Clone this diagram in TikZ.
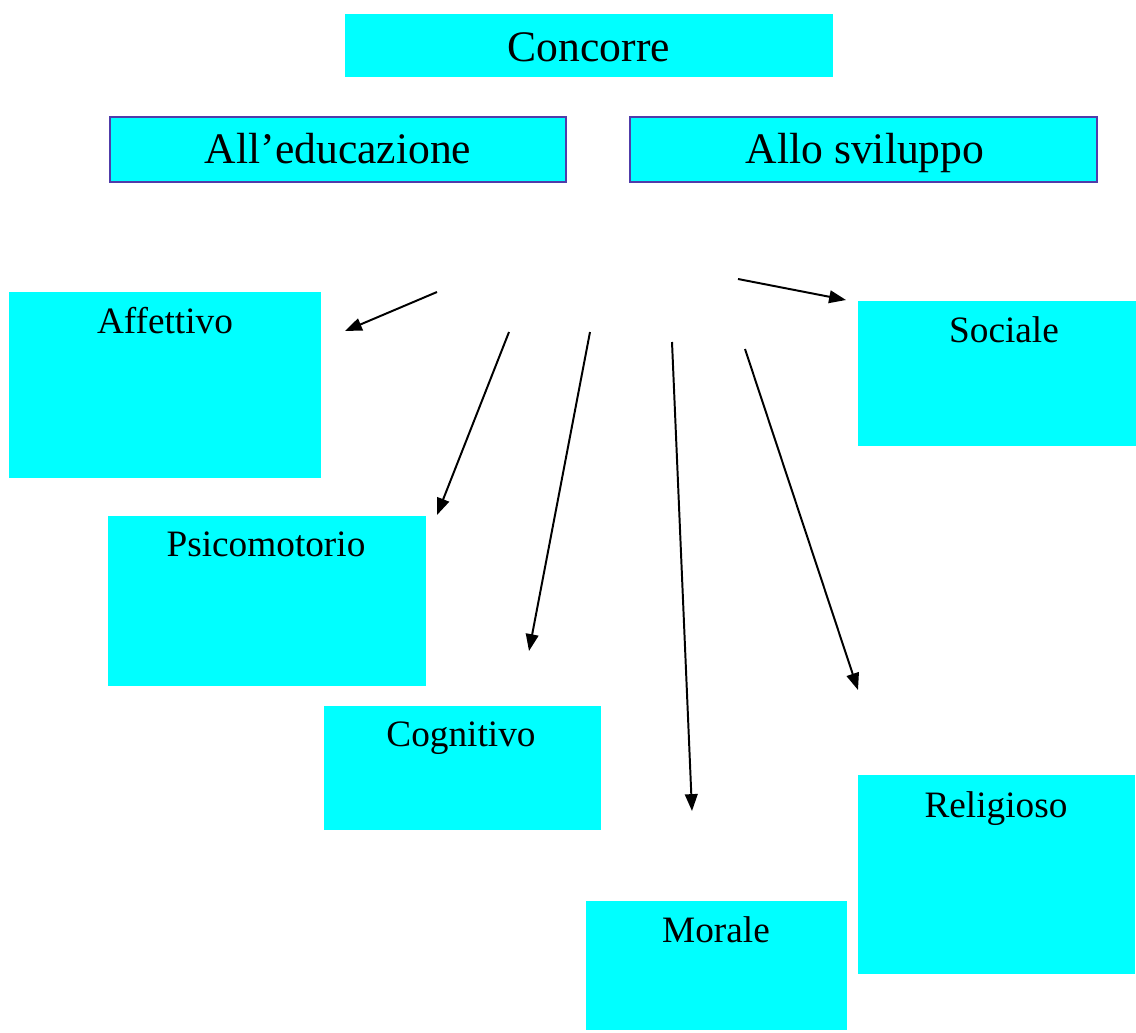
\documentclass[tikz,border=0pt]{standalone}
\usepackage{fontspec}
\setmainfont{Liberation Serif}
\usetikzlibrary{arrows.meta}

\definecolor{boxcyan}{RGB}{0,255,255}
\definecolor{boxedge}{RGB}{80,60,170}

\tikzset{
  box/.style={fill=boxcyan, inner sep=0pt, outer sep=0pt},
  topbox/.style={box, draw=boxedge, line width=1.4pt},
  bigtext/.style={font=\fontsize{31}{36}\selectfont, inner sep=0pt, anchor=base},
  smalltext/.style={font=\fontsize{26.5}{30}\selectfont, inner sep=0pt, anchor=base},
  ray/.style={line width=1.4pt, -{Triangle[length=12pt,width=9pt]}}
}

\begin{document}
\begin{tikzpicture}[x=0.025cm, y=-0.025cm]
\useasboundingbox (0,0) rectangle (1136,1032);

% titoli
\node[box, minimum width=12.2cm, minimum height=1.575cm] (concorre) at (589,45.5) {};
\node[bigtext] (concorre-t) at (589,61) {Concorre};
\node[topbox, minimum width=11.4cm, minimum height=1.625cm] (educazione) at (338,149.5) {};
\node[bigtext] (educazione-t) at (338,163) {All'educazione};
\node[topbox, minimum width=11.675cm, minimum height=1.625cm] (sviluppo) at (863.5,149.5) {};
\node[bigtext] (sviluppo-t) at (865,163) {Allo sviluppo};

% riquadri
\node[box, minimum width=7.8cm, minimum height=4.65cm] (affettivo) at (165,385) {};
\node[smalltext] (affettivo-t) at (165,333) {Affettivo};
\node[box, minimum width=6.95cm, minimum height=3.625cm] (sociale) at (997,373.5) {};
\node[smalltext] (sociale-t) at (1004,342) {Sociale};
\node[box, minimum width=7.95cm, minimum height=4.25cm] (psicomotorio) at (267,601) {};
\node[smalltext] (psicomotorio-t) at (266,556) {Psicomotorio};
\node[box, minimum width=6.925cm, minimum height=3.1cm] (cognitivo) at (462.5,768) {};
\node[smalltext] (cognitivo-t) at (461,746) {Cognitivo};
\node[box, minimum width=6.925cm, minimum height=4.975cm] (religioso) at (996.5,874.5) {};
\node[smalltext] (religioso-t) at (996,817) {Religioso};
\node[box, minimum width=6.525cm, minimum height=3.225cm] (morale) at (716.5,965.5) {};
\node[smalltext] (morale-t) at (716,942) {Morale};

% frecce
\coordinate (a1) at (437,292);  \coordinate (b1) at (345,331);
\coordinate (a2) at (509,332);  \coordinate (b2) at (437,515);
\coordinate (a3) at (590,332);  \coordinate (b3) at (529,651);
\coordinate (a4) at (672,342);  \coordinate (b4) at (692,811);
\coordinate (a5) at (745,349);  \coordinate (b5) at (858,690);
\coordinate (a6) at (738,279);  \coordinate (b6) at (846,300);
\foreach \i in {1,...,6}
  \draw[ray] (a\i) -- (b\i);
\end{tikzpicture}
\end{document}
